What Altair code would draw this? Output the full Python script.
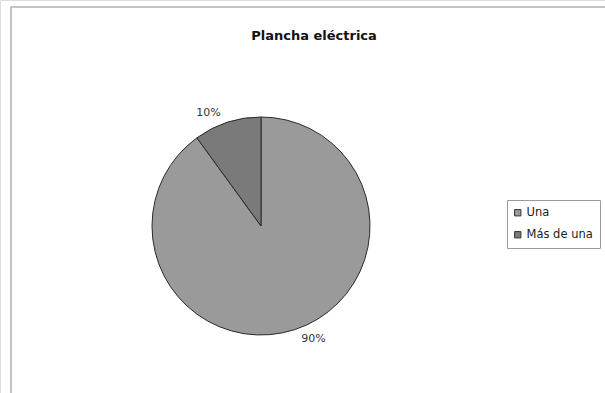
import altair as alt
import pandas as pd

# Survey answers for the "Plancha eléctrica" question
categories = ["Una", "Más de una"]
shares = [90, 10]
labels = ["90%", "10%"]
chart_title = "Plancha eléctrica"

df = pd.DataFrame({"categoria": categories, "valor": shares, "etiqueta": labels,
                   "orden": list(range(len(categories)))})

W, H = 605, 393
CX, CY, R = 261, 226, 109

color_scale = alt.Scale(domain=categories, range=["#9a9a9a", "#7a7a7a"])

base = alt.Chart(df).encode(
    theta=alt.Theta("valor:Q", stack=True),
    order=alt.Order("orden:Q"),
)

pie = base.mark_arc(x=CX, y=CY, outerRadius=R, stroke="#2a2a2a", strokeWidth=1).encode(
    color=alt.Color(
        "categoria:N", scale=color_scale, sort=categories, title=None,
        legend=alt.Legend(
            orient="none", legendX=507, legendY=200,
            symbolType="square", symbolSize=40, symbolStrokeColor="#333333",
            symbolStrokeWidth=1, labelFont="DejaVu Sans", labelFontSize=11.5,
            labelColor="#222222", rowPadding=9, padding=7, symbolOffset=-2,
            labelOffset=3,
            strokeColor="#9a9a9a", fillColor="white",
        ),
    )
)

# percentage labels, placed just outside the rim
text = base.mark_text(
    x=CX, y=CY, radius=125, thetaOffset=-0.12,
    font="DejaVu Sans", fontSize=11, color="#333333"
).encode(text="etiqueta:N")

title = alt.Chart(pd.DataFrame({"t": [chart_title]})).mark_text(
    font="DejaVu Sans", fontSize=13, fontWeight="bold", color="#111111",
    align="center", baseline="middle"
).encode(text="t:N", x=alt.value(314), y=alt.value(36))

frame = alt.Chart(pd.DataFrame({"k": [0]})).mark_rect(
    fill=None, stroke="#b0b0b0", strokeWidth=1.5
).encode(x=alt.value(11), x2=alt.value(640), y=alt.value(7), y2=alt.value(420))

chart = alt.layer(frame, pie, text, title).properties(
    width=W, height=H,
    autosize=alt.AutoSizeParams(type="none"),
    padding=0,
).configure_view(stroke=None).configure(background="white")

chart.save("out.html", embed_options={"renderer": "svg", "actions": False})
